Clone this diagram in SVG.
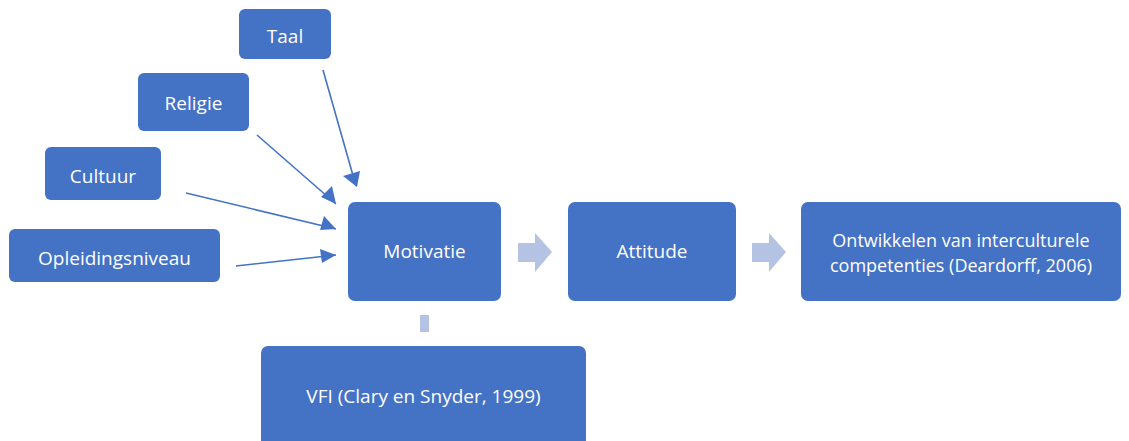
<svg xmlns="http://www.w3.org/2000/svg" width="1129" height="441" viewBox="0 0 1129 441">
<style>
.box{fill:#4472C4;}
.t{fill:#FFFFFF;font-family:"Open Sans","Liberation Sans",sans-serif;font-size:19px;text-anchor:middle;dominant-baseline:central;}
.t2{font-size:18px;}
.c{stroke:#4472C4;stroke-width:1.6;fill:none;}
.ah{fill:#4472C4;}
.big{fill:#B4C3E3;}
</style>
<g id="connectors">
<line class="c" x1="323" y1="70" x2="356" y2="186"/>
<line class="c" x1="257" y1="135" x2="336" y2="204"/>
<line class="c" x1="186" y1="193" x2="336" y2="229"/>
<line class="c" x1="236" y1="266" x2="336" y2="255"/>
<path class="ah" d="M357,187 L343,176 L360,171 z"/>
<path class="ah" d="M336,204 L321,197 L332,186 z"/>
<path class="ah" d="M336,229 L320,230 L324,216 z"/>
<path class="ah" d="M336,255 L322,263 L320,249 z"/>
<path class="big" d="M518,243 L535,243 L535,233 L552,252 L535,272 L535,262 L518,262 z"/>
<path class="big" d="M752,243 L769,243 L769,233 L786,252 L769,272 L769,262 L752,262 z"/>
<rect class="big" x="420" y="315" width="9" height="17"/>
</g>
<g id="taal"><rect class="box" x="239" y="9" width="92" height="50" rx="6"/><text class="t" x="285" y="36">Taal</text></g>
<g id="religie"><rect class="box" x="138" y="73" width="111" height="58" rx="6"/><text class="t" x="193.5" y="103">Religie</text></g>
<g id="cultuur"><rect class="box" x="45" y="147" width="116" height="53" rx="6"/><text class="t" x="103" y="176">Cultuur</text></g>
<g id="opleidingsniveau"><rect class="box" x="9" y="229" width="211" height="53" rx="6"/><text class="t" x="114.5" y="258">Opleidingsniveau</text></g>
<g id="motivatie"><rect class="box" x="348" y="202" width="153" height="99" rx="7"/><text class="t" x="424.5" y="251">Motivatie</text></g>
<g id="attitude"><rect class="box" x="568" y="202" width="168" height="99" rx="7"/><text class="t" x="652" y="251">Attitude</text></g>
<g id="ontwikkelen"><rect class="box" x="801" y="202" width="320" height="99" rx="7"/><text class="t t2" x="961" y="240">Ontwikkelen van interculturele</text><text class="t t2" x="961" y="265">competenties (Deardorff, 2006)</text></g>
<g id="vfi"><rect class="box" x="261" y="346" width="325" height="110" rx="7"/><text class="t" x="423.5" y="396">VFI (Clary en Snyder, 1999)</text></g>
</svg>
